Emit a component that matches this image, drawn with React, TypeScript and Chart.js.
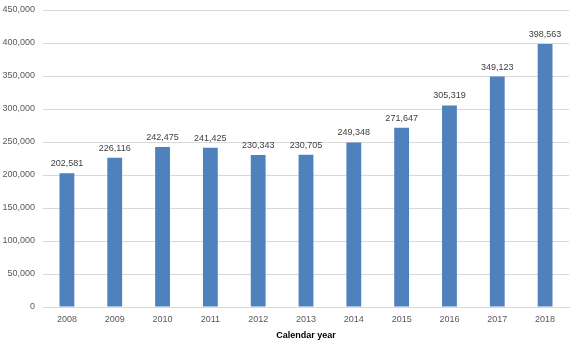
import React, { useEffect, useRef } from "react";
import { Chart, registerables } from "chart.js";

Chart.register(...registerables);

const categories = ["2008", "2009", "2010", "2011", "2012", "2013", "2014", "2015", "2016", "2017", "2018"];
const values = [202581, 226116, 242475, 241425, 230343, 230705, 249348, 271647, 305319, 349123, 398563];
const yTicks = [0, 50000, 100000, 150000, 200000, 250000, 300000, 350000, 400000, 450000];
const xTitle = "Calendar year";

const FONT = "'Liberation Sans', Arial, sans-serif";

const labelPlugin = {
  id: "barLabels",
  afterDatasetsDraw(chart: any) {
    const ctx = chart.ctx;
    const meta = chart.getDatasetMeta(0);
    ctx.save();
    ctx.font = `9px ${FONT}`;
    ctx.fillStyle = "#404040";
    ctx.textAlign = "center";
    ctx.textBaseline = "bottom";
    meta.data.forEach((bar: any, i: number) => {
      ctx.fillText(values[i].toLocaleString("en-US"), bar.x, bar.y - 5);
    });
    ctx.restore();
  },
};

export default function App() {
  const ref = useRef<HTMLCanvasElement | null>(null);
  useEffect(() => {
    if (!ref.current) return;
    const chart = new Chart(ref.current, {
      type: "bar",
      data: {
        labels: categories,
        datasets: [
          {
            data: values,
            backgroundColor: "#4F81BD",
            borderWidth: 0,
            barPercentage: 0.31,
            categoryPercentage: 1,
          },
        ],
      },
      options: {
        animation: false,
        responsive: false,
        maintainAspectRatio: false,
        layout: { padding: { top: 10, right: 11, left: 0, bottom: 10 } },
        plugins: { legend: { display: false }, tooltip: { enabled: false } },
        scales: {
          x: {
            grid: { display: false, drawTicks: false },
            border: { color: "#D9D9D9", width: 1 },
            ticks: { color: "#595959", font: { family: FONT, size: 9 }, padding: 7 },
            title: {
              display: true,
              text: xTitle,
              color: "#000000",
              font: { family: FONT, size: 9, weight: "bold" },
              padding: { top: 3, bottom: 0 },
            },
            afterFit(scale: any) {
              scale.height = 34;
            },
          },
          y: {
            min: 0,
            max: 450000,
            afterBuildTicks(scale: any) {
              scale.ticks = yTicks.map((v) => ({ value: v }));
            },
            grid: { color: "#D9D9D9", drawTicks: false },
            border: { display: false },
            ticks: {
              color: "#595959",
              font: { family: FONT, size: 9 },
              padding: 8,
              callback: (v: any) => Number(v).toLocaleString("en-US"),
            },
            afterFit(scale: any) {
              scale.width = 43;
              scale.paddingTop = 0;
              scale.paddingBottom = 0;
            },
          },
        },
      },
      plugins: [labelPlugin],
    });
    return () => chart.destroy();
  }, []);
  return (
    <div style={{ position: "fixed", left: 0, top: 0, width: 580, height: 351, background: "#fff" }}>
      <canvas ref={ref} width={580} height={351} style={{ width: 580, height: 351 }} />
    </div>
  );
}
